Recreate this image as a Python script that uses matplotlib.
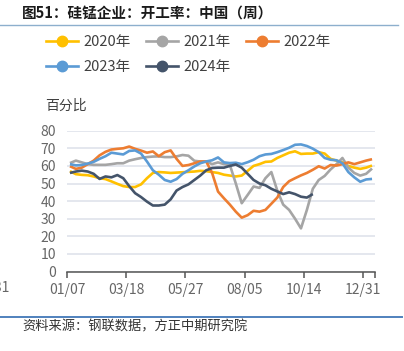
import numpy as np
import matplotlib
matplotlib.use('Agg')
import matplotlib.pyplot as plt
from matplotlib.lines import Line2D

plt.rcParams['font.family'] = ['Noto Sans CJK SC', 'DejaVu Sans']

# ---------------- data ----------------
series_names = ['2020年', '2021年', '2022年', '2023年', '2024年']

y2020 = [57, 55.3, 54.9, 54.7, 54, 53, 52.5, 51.2, 49.8, 48.5, 48, 48, 49.5, 53, 56, 56.5,
         56.3, 56, 56.2, 56.4, 56.6, 56.8, 57.2, 57, 56.5, 56, 55, 54.5, 54, 54.5, 57.2, 60,
         61, 62.3, 62.5, 64.5, 66, 67.5, 68.3, 66.8, 67, 67, 67.8, 67, 64, 63, 62, 60, 59,
         58.3, 59, 60.2]
y2021 = [61.6, 63, 62, 61, 60.6, 60.6, 60.6, 61, 61.5, 61.5, 63, 63.8, 64.5, 65, 65.3, 65.4,
         65, 65, 65.4, 66.2, 65.8, 62.9, 62.5, 62.5, 61, 62, 61, 60.5, 50, 38.8, 43.5, 48.3,
         47.5, 53, 56.5, 46, 38, 35, 30, 24.5, 35, 47, 52, 54.3, 58, 61, 64.5, 59, 56, 54.5,
         55.5, 58.5]
y2022 = [59.8, 58.3, 59, 61, 63, 66, 68, 69.3, 69.7, 70, 71, 69.7, 68.7, 67.5, 68.2, 65.5,
         67.8, 68.8, 64, 60, 60.5, 61.5, 62.5, 62.5, 56, 45.4, 41.6, 38, 34, 30.6, 32, 34.5,
         34, 35, 38.5, 42, 48, 51.3, 53, 54.6, 56, 57.8, 59.8, 58.5, 60.5, 60.2, 61, 62, 61,
         62, 63, 63.8]
y2023 = [61, 60.3, 60.5, 61.3, 62.3, 64, 65.5, 67.5, 67, 66.5, 68.5, 68.8, 67, 62.5, 57.5,
         55, 52, 51, 52.5, 55.5, 57.5, 59.7, 61.5, 62.5, 63.2, 64.8, 62, 61.6, 61.8, 61, 62.1,
         63.5, 65.5, 66.5, 66.8, 67.8, 69, 70.3, 72, 72.2, 71.3, 69.8, 67.8, 64.5, 63.5, 63.2,
         61.5, 56.5, 53.5, 51, 52.3, 52.6]
y2024 = [56, 56.8, 57.3, 56.8, 55.5, 52.6, 54, 53.5, 54.8, 53, 48.5, 44.5, 42.3, 39.7, 37.5,
         37.5, 38, 41, 46, 48, 49.5, 52, 54.5, 57.5, 58.8, 59, 59, 60, 60.8, 59, 55.5, 52, 50,
         49, 47, 45.5, 44, 45, 44, 42.5, 42, 44]

tick_labels = ['01/07', '03/18', '05/27', '08/05', '10/14', '12/31']
y_ticks = [0, 10, 20, 30, 40, 50, 60, 70, 80]

series_values = [y2020, y2021, y2022, y2023, y2024]
colors = ['#FFC000', '#A5A5A5', '#ED7D31', '#5B9BD5', '#44546A']

# ---------------- figure ----------------
W, H = 404, 351
fig = plt.figure(figsize=(W / 100, H / 100), dpi=100)
ax = fig.add_axes([67 / W, 1 - 271.5 / H, 308 / W, 140.8 / H])

handles = []
for name, vals, c in zip(series_names, series_values, colors):
    ln, = ax.plot(np.arange(len(vals)), vals, color=c, lw=1.9,
                  solid_joinstyle='round', solid_capstyle='butt', label=name)
    handles.append(Line2D([], [], color=c, lw=1.9, marker='o', markersize=7.5,
                          markeredgecolor=c, markerfacecolor=c, label=name))

n = len(y2020)
ax.set_xlim(-0.5, n - 0.5)
ax.set_ylim(0, 80)
ax.set_yticks(y_ticks)
ax.grid(axis='y', color='#DCE0EA', lw=1.1)
ax.set_axisbelow(True)
for s in ['top', 'right', 'left']:
    ax.spines[s].set_visible(False)
ax.spines['bottom'].set_color('#555555')
ax.spines['bottom'].set_linewidth(1.1)

tick_pos = [-0.5 + 10 * k for k in range(len(tick_labels))]
ax.set_xticks(tick_pos, tick_labels)
ax.set_xticks([n - 0.5], minor=True)
ax.tick_params(axis='x', which='both', direction='out', length=4, width=1.1,
               color='#555555', labelsize=10, labelcolor='#666666', pad=4)
ax.tick_params(axis='y', length=0, labelsize=10, labelcolor='#666666', pad=8)

# legend in row-major order
order = [0, 3, 1, 4, 2]
leg = fig.legend([handles[i] for i in order], [series_names[i] for i in order],
                 ncol=3, loc='upper left', bbox_to_anchor=(46 / W, 1 - 35 / H),
                 frameon=False, fontsize=10.5, handlelength=2.2, handletextpad=0.4,
                 columnspacing=1.0, labelspacing=0.75, borderpad=0, borderaxespad=0)
for t in leg.get_texts():
    t.set_color('#404040')

# texts
fig.text(22 / W, 1 - 14 / H, '图51：硅锰企业：开工率：中国（周）', fontsize=10.5,
         fontweight='bold', va='center', ha='left', color='#1a1a1a')
fig.add_artist(Line2D([0, 398 / W], [1 - 24.5 / H] * 2, color='#8DAFCD', lw=1.0))
fig.text(45 / W, 1 - 106 / H, '百分比', fontsize=10, va='center', ha='left', color='#404040')
fig.text(10 / W, 1 - 288 / H, '12/31', fontsize=10, va='center', ha='right', color='#666666')
fig.add_artist(Line2D([0, 402 / W], [1 - 316.5 / H] * 2, color='#4F81BD', lw=1.4))
fig.text(22 / W, 1 - 327 / H, '资料来源：钢联数据，方正中期研究院', fontsize=9.5,
         style='italic', va='center', ha='left', color='#333333')

fig.savefig('out.png', dpi=100)
